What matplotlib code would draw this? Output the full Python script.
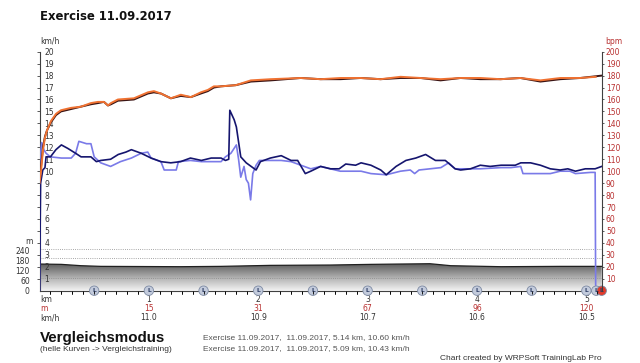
import numpy as np
import matplotlib
matplotlib.use("Agg")
import matplotlib.pyplot as plt
import matplotlib.transforms as mtransforms
from matplotlib.colors import LinearSegmentedColormap

# ---------------- data ----------------
# speed, main exercise (dark)
spd_km = [0.00, 0.01, 0.03, 0.05, 0.06, 0.10, 0.15, 0.20, 0.26, 0.33, 0.38, 0.47, 0.52, 0.56,
          0.65, 0.72, 0.79, 0.84, 0.93, 1.02, 1.11, 1.20, 1.29, 1.38, 1.48, 1.57, 1.66, 1.70,
          1.73, 1.74, 1.78, 1.80, 1.84, 1.89, 1.98, 2.02, 2.11, 2.21, 2.30, 2.36, 2.43, 2.48,
          2.57, 2.66, 2.74, 2.80, 2.89, 2.94, 3.03, 3.12, 3.17, 3.26, 3.35, 3.44, 3.53, 3.62,
          3.71, 3.80, 3.85, 3.94, 4.03, 4.12, 4.22, 4.35, 4.40, 4.49, 4.58, 4.67, 4.76, 4.83,
          4.90, 4.99, 5.08, 5.14]
spd_val = [0.0, 9.0, 10.1, 10.3, 11.2, 11.2, 11.8, 12.2, 11.9, 11.5, 11.2, 11.2, 10.8, 10.9,
           11.0, 11.4, 11.6, 11.8, 11.5, 11.1, 10.8, 10.7, 10.8, 11.1, 10.9, 11.1, 11.1, 10.9,
           11.0, 15.1, 14.3, 13.7, 11.2, 10.7, 10.1, 10.8, 11.1, 11.3, 10.9, 10.9, 9.8, 10.0,
           10.4, 10.2, 10.2, 10.6, 10.5, 10.7, 10.5, 10.1, 9.7, 10.4, 10.9, 11.1, 11.4, 10.9,
           10.9, 10.2, 10.1, 10.2, 10.5, 10.4, 10.5, 10.5, 10.7, 10.7, 10.5, 10.2, 10.1, 10.2,
           10.0, 10.2, 10.2, 10.4]

# speed, comparison exercise (light)
cmp_spd_km = [0.0, 0.005, 0.02, 0.04, 0.06, 0.10, 0.20, 0.29, 0.33, 0.36, 0.43, 0.47, 0.50,
              0.56, 0.65, 0.74, 0.84, 0.93, 0.99, 1.02, 1.11, 1.14, 1.25, 1.27, 1.38, 1.48,
              1.66, 1.70, 1.75, 1.80, 1.82, 1.84, 1.87, 1.89, 1.91, 1.93, 1.95, 1.98, 2.01,
              2.11, 2.21, 2.30, 2.39, 2.48, 2.57, 2.66, 2.75, 2.94, 3.03, 3.17, 3.30, 3.39,
              3.43, 3.47, 3.67, 3.74, 3.80, 3.94, 4.03, 4.22, 4.31, 4.40, 4.42, 4.67, 4.76,
              4.85, 4.90, 5.04, 5.08, 5.085]
cmp_spd_val = [0.0, 11.0, 12.4, 11.8, 11.5, 11.2, 11.1, 11.1, 11.5, 12.5, 12.3, 12.3, 11.2,
               10.7, 10.4, 10.8, 11.1, 11.5, 11.6, 11.1, 10.8, 10.1, 10.1, 10.8, 10.9, 10.8,
               10.8, 11.2, 11.5, 12.2, 11.0, 9.5, 10.4, 9.3, 9.0, 7.6, 9.8, 10.5, 10.9,
               10.9, 10.9, 10.8, 10.5, 10.2, 10.4, 10.2, 10.0, 10.0, 9.8, 9.7, 10.0, 10.1,
               9.8, 10.1, 10.3, 10.7, 10.2, 10.2, 10.2, 10.3, 10.3, 10.4, 9.8, 9.8, 10.0,
               10.0, 9.8, 9.9, 9.9, 0.0]

# heart rate, main exercise (dark)
hr_km = [0.0, 0.014, 0.032, 0.05, 0.068, 0.105, 0.151, 0.196, 0.288, 0.379, 0.47, 0.534,
         0.589, 0.626, 0.653, 0.717, 0.863, 0.991, 1.046, 1.11, 1.201, 1.292, 1.384, 1.475,
         1.539, 1.594, 1.658, 1.795, 1.932, 2.114, 2.388, 2.571, 2.753, 2.936, 3.119, 3.301,
         3.484, 3.667, 3.849, 4.032, 4.215, 4.397, 4.58, 4.763, 4.945, 5.14]
hr_val = [95, 104, 120, 129, 134, 141, 147, 150, 152, 154, 156, 157, 158, 155, 156, 159,
          160, 165, 166, 165, 161, 163, 162, 165, 167, 170, 171, 172, 175, 176, 178, 177,
          177, 178, 177, 178, 178, 176, 178, 177, 177, 178, 175, 177, 178, 180]

# heart rate, comparison exercise (light)
cmp_hr_km = [0.0, 0.014, 0.032, 0.05, 0.068, 0.105, 0.151, 0.196, 0.288, 0.379, 0.47, 0.534,
             0.589, 0.626, 0.653, 0.717, 0.863, 0.991, 1.046, 1.11, 1.201, 1.292, 1.384,
             1.475, 1.539, 1.594, 1.658, 1.795, 1.932, 2.114, 2.388, 2.571, 2.753, 2.936,
             3.119, 3.301, 3.484, 3.667, 3.849, 4.032, 4.215, 4.397, 4.58, 4.763, 4.945, 5.085]
cmp_hr_val = [90, 100, 118, 128, 134, 142, 148, 151, 153, 154, 157, 158, 158, 155, 157, 160,
              161, 166, 167, 165, 161, 164, 162, 166, 168, 171, 171, 172, 176, 177, 178, 177,
              178, 178, 177, 179, 178, 177, 178, 178, 177, 178, 176, 178, 178, 179]

# altitude profile (m)
alt_km = [0.0, 0.20, 0.38, 0.56, 0.93, 1.29, 1.66, 2.11, 2.66, 3.03, 3.57, 3.76, 4.22, 4.76, 5.14]
alt_m = [160, 158, 150, 146, 145, 144, 146, 152, 154, 158, 162, 150, 144, 146, 146]
ref_lines_m = [248, 194, 74]

# km table below the axis
km_ticks = [1, 2, 3, 4, 5]
km_labels = ["1", "2", "3", "4", "5"]
m_labels = ["15", "31", "67", "96", "120"]
kmh_labels = ["11.0", "10.9", "10.7", "10.6", "10.5"]

# lap markers
lap_km = [0.5, 1.0, 1.5, 2.0, 2.5, 3.0, 3.5, 4.0, 4.5, 5.0, 5.09, 5.14]

kmh_ticks = list(range(1, 21))
bpm_ticks = list(range(10, 201, 10))
alt_ticks = [0, 60, 120, 180, 240]

title = "Exercise 11.09.2017"
info1 = "Exercise 11.09.2017,  11.09.2017, 5.14 km, 10.60 km/h"
info2 = "Exercise 11.09.2017,  11.09.2017, 5.09 km, 10.43 km/h"

# ---------------- style ----------------
W, H = 640, 363
C_SPD = "#15156e"
C_SPD_L = "#7a7ae8"
C_HR = "#3a1414"
C_HR_L = "#f07232"
C_RED = "#b83030"
C_TXT = "#333333"
FS = 5.5

fig = plt.figure(figsize=(W / 100, H / 100), dpi=100)
fig.patch.set_facecolor("white")

def fx(x):
    return x / W

def fy(y):
    return 1 - y / H

rect = [fx(39.5), fy(290.7), (601.7 - 39.5) / W, (290.7 - 51.7) / H]
ax_alt = fig.add_axes(rect)
ax = fig.add_axes(rect, sharex=ax_alt)
ax2 = fig.add_axes(rect, sharex=ax_alt)
ax_alt.set_zorder(0)
ax.set_zorder(1)
ax2.set_zorder(2)
ax.patch.set_visible(False)
ax2.patch.set_visible(False)

XMAX = 5.14
# ----- altitude (gradient fill) -----
coll = ax_alt.fill_between(alt_km, alt_m, 0, facecolor="none", edgecolor="none")
path = coll.get_paths()[0]
cmap = LinearSegmentedColormap.from_list("alt", ["#f4f4f4", "#b0b0b0", "#5e5e5e"])
grad = np.linspace(0, 1, 256).reshape(-1, 1)
im = ax_alt.imshow(grad, extent=[0, XMAX, 0, max(alt_m)], origin="lower", aspect="auto",
                   cmap=cmap, zorder=1, interpolation="bilinear")
im.set_clip_path(path, transform=ax_alt.transData)
ax_alt.plot(alt_km, alt_m, color="#202020", lw=0.9, zorder=2)
for v in ref_lines_m:
    ax_alt.axhline(v, color="#8a8a8a", lw=0.6, ls=(0, (1, 1.6)), zorder=3)
ax_alt.set_xlim(0, XMAX)
ax_alt.set_ylim(0, 20 * 11.95 / (40.0 / 240))
ax_alt.set_yticks(alt_ticks)
ax_alt.tick_params(axis="y", length=0, pad=7, labelsize=FS, labelcolor=C_TXT)
ax_alt.tick_params(axis="x", bottom=False, labelbottom=False)
for s in ax_alt.spines.values():
    s.set_visible(False)

# ----- speed -----
ax.plot(cmp_spd_km, cmp_spd_val, color=C_SPD_L, lw=1.2, zorder=3)
ax.plot(spd_km, spd_val, color=C_SPD, lw=1.2, zorder=4)
ax.set_xlim(0, XMAX)
ax.set_ylim(0, 20)
ax.set_yticks(kmh_ticks)
ax.tick_params(axis="y", direction="out", length=2, width=0.6, pad=-5.5,
               labelsize=FS, labelcolor=C_TXT, color="#404040")
for lab in ax.get_yticklabels():
    lab.set_horizontalalignment("left")
ax.set_xticks(km_ticks)
ax.set_xticks(np.arange(0.1, XMAX, 0.1), minor=True)
ax.tick_params(axis="x", which="both", direction="out", length=2.2, width=0.6,
               color="#404040", labelbottom=False)
for k in ["top", "right"]:
    ax.spines[k].set_visible(False)
for k in ["left", "bottom"]:
    ax.spines[k].set_color("#404040")
    ax.spines[k].set_linewidth(0.8)

# ----- heart rate -----
ax2.plot(hr_km, hr_val, color=C_HR, lw=1.4, zorder=3)
ax2.plot(cmp_hr_km, cmp_hr_val, color=C_HR_L, lw=1.4, zorder=4)
ax2.set_xlim(0, XMAX)
ax2.set_ylim(0, 200)
ax2.yaxis.tick_right()
ax2.set_yticks(bpm_ticks)
ax2.tick_params(axis="y", direction="out", length=1.5, width=0.6, pad=1.5,
                labelsize=FS, labelcolor=C_RED, color="#404040")
ax2.tick_params(axis="x", bottom=False, labelbottom=False)
for k in ["top", "left", "bottom"]:
    ax2.spines[k].set_visible(False)
ax2.spines["right"].set_color("#404040")
ax2.spines["right"].set_linewidth(0.8)

# ----- lap markers -----
lap_colors = ["#c3cbdc"] * (len(lap_km) - 1) + ["#e23a2a"]
ax.scatter(lap_km, [0] * len(lap_km), s=46, c=lap_colors, edgecolors="#7d8aa3",
           linewidths=0.6, zorder=10, clip_on=False)
for k in lap_km:
    ax.text(k, 0, "L", fontsize=4.3, color="#2e3e66", ha="center", va="center",
            zorder=11, clip_on=False, fontweight="bold")

# ----- table below axis -----
bt = mtransforms.blended_transform_factory(ax.transData, fig.transFigure)
fig.text(fx(40), fy(299), "km", fontsize=FS, color=C_TXT, va="center", ha="left")
fig.text(fx(40), fy(308.5), "m", fontsize=FS, color=C_RED, va="center", ha="left")
fig.text(fx(40), fy(318), "km/h", fontsize=FS, color=C_TXT, va="center", ha="left")
for k, a, b, c in zip(km_ticks, km_labels, m_labels, kmh_labels):
    ax.text(k, fy(299.5), a, transform=bt, fontsize=FS, color=C_TXT, ha="center", va="center")
    ax.text(k, fy(308.5), b, transform=bt, fontsize=FS, color=C_RED, ha="center", va="center")
    ax.text(k, fy(318), c, transform=bt, fontsize=FS, color=C_TXT, ha="center", va="center")

# ----- axis unit labels -----
fig.text(fx(40), fy(41), "km/h", fontsize=FS, color=C_TXT, va="center", ha="left")
fig.text(fx(605), fy(41), "bpm", fontsize=FS, color=C_RED, va="center", ha="left")
fig.text(fx(25), fy(241), "m", fontsize=FS, color=C_TXT, va="center", ha="left")

# ----- titles / footer -----
fig.text(fx(40), fy(16.5), title, fontsize=8.4, fontweight="bold", color="#111111",
         va="center", ha="left")
fig.text(fx(40), fy(342.3), "Vergleichsmodus", fontsize=10.9, fontweight="bold",
         family="Liberation Sans", color="#111111", va="baseline", ha="left")
fig.text(fx(40), fy(351), "(helle Kurven -> Vergleichstraining)", fontsize=6,
         family="Liberation Sans", color=C_TXT, va="baseline", ha="left")
fig.text(fx(203), fy(339.5), info1, fontsize=6, family="Liberation Sans",
         color="#555555", va="baseline", ha="left")
fig.text(fx(203), fy(350), info2, fontsize=6, family="Liberation Sans",
         color="#555555", va="baseline", ha="left")
fig.text(fx(440), fy(359.5), "Chart created by WRPSoft TrainingLab Pro", fontsize=6,
         family="Liberation Sans", color="#333333", va="baseline", ha="left")

fig.savefig("out.png", dpi=100)
